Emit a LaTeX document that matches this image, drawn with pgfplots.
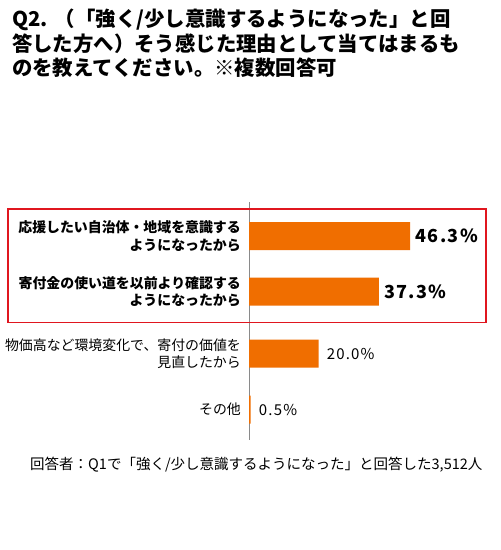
\documentclass[border=0pt]{standalone}
\usepackage{fontspec}
\setmainfont{Noto Sans CJK JP}
\newfontfamily\jpsp{Noto Sans CJK JP}[LetterSpace=8]
\usepackage{pgfplots}
\pgfplotsset{compat=1.18}
\definecolor{barorange}{HTML}{F06E00}
\definecolor{boxred}{HTML}{E0161F}
\definecolor{axgray}{HTML}{8A8A8A}
\begin{document}
\begin{tikzpicture}
\path[fill=white] (0,0) rectangle (501bp,-550bp);
\node[anchor=north west, align=left, inner sep=0pt, font=\fontsize{20.4bp}{24.5bp}\selectfont\bfseries] at (12bp,-9bp)
{Q2.\hspace{0.35em}（「強く/少し意識するようになった」と回\\答した方へ）そう感じた理由として当てはまるも\\のを教えてください。※複数回答可};
\begin{axis}[
  at={(249bp,-321bp)}, anchor=west,
  scale only axis, width=243.6bp, height=238bp,
  xmin=0, xmax=70, ymin=202, ymax=440, y dir=reverse,
  xbar, bar width=28, bar shift=0pt,
  axis x line=none, axis y line*=left,
  y axis line style={draw=axgray, line width=1pt, -},
  ytick={236,291.5,353.5,409.5},
  yticklabels={{\bfseries 応援したい自治体・地域を意識する\\\bfseries ようになったから},
               {\bfseries 寄付金の使い道を以前より確認する\\\bfseries ようになったから},
               {物価高など環境変化で、寄付の価値を\\見直したから},
               {その他}},
  yticklabel style={align=right, anchor=east, inner sep=0pt, xshift=-8bp,
     font=\fontsize{13.9bp}{17.5bp}\selectfont},
  major tick length=0pt,
  clip=false,
  point meta=explicit symbolic,
  nodes near coords,
]
\addplot[fill=barorange, draw=none,
  nodes near coords style={anchor=west, inner sep=0pt, xshift=5bp,
    font=\fontsize{18bp}{18bp}\jpsp\bfseries}]
  coordinates {(46.3,236) [46.3\%] (37.3,291.5) [37.3\%]};
\addplot[fill=barorange, draw=none,
  nodes near coords style={anchor=west, inner sep=0pt, xshift=8bp,
    font=\fontsize{15bp}{15bp}\jpsp}]
  coordinates {(20.0,353.5) [20.0\%] (0.5,409.5) [0.5\%]};
\end{axis}
\draw[boxred, line width=1.8bp] (8bp,-209bp) rectangle (486bp,-322.5bp);
\node[anchor=west, inner sep=0pt, font=\fontsize{14.5bp}{14.5bp}\selectfont] at (30bp,-465bp)
{回答者：Q1で「強く/少し意識するようになった」と回答した3,512人};
\end{tikzpicture}
\end{document}
